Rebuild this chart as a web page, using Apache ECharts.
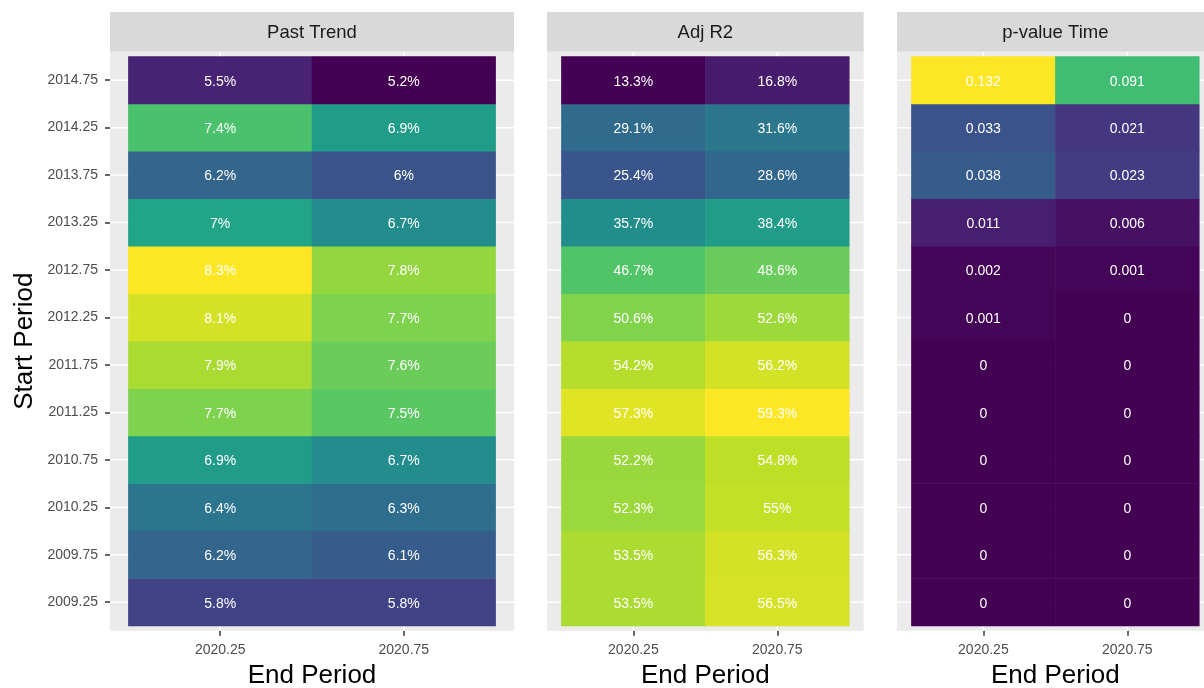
<!DOCTYPE html>
<html><head><meta charset="utf-8">
<script src="https://cdn.jsdelivr.net/npm/echarts@6/dist/echarts.min.js"></script>
<style>html,body{margin:0;padding:0;background:#fff}#c{width:1204px;height:688px}</style>
</head><body><div id="c"></div>
<script>
// ---------- data ----------
const startPeriods = ['2009.25','2009.75','2010.25','2010.75','2011.25','2011.75','2012.25','2012.75','2013.25','2013.75','2014.25','2014.75'];
const endPeriods = ['2020.25','2020.75'];
const panelTitles = ['Past Trend','Adj R2','p-value Time'];
// values listed bottom (2009.25) to top (2014.75)
const pastTrend_2020_25 = [5.8, 6.2, 6.4, 6.9, 7.7, 7.9, 8.1, 8.3, 7.0, 6.2, 7.4, 5.5];
const pastTrend_2020_75 = [5.8, 6.1, 6.3, 6.7, 7.5, 7.6, 7.7, 7.8, 6.7, 6.0, 6.9, 5.2];
const adjR2_2020_25 = [53.5, 53.5, 52.3, 52.2, 57.3, 54.2, 50.6, 46.7, 35.7, 25.4, 29.1, 13.3];
const adjR2_2020_75 = [56.5, 56.3, 55.0, 54.8, 59.3, 56.2, 52.6, 48.6, 38.4, 28.6, 31.6, 16.8];
const pTime_2020_25 = [0, 0, 0, 0, 0, 0, 0.001, 0.002, 0.011, 0.038, 0.033, 0.132];
const pTime_2020_75 = [0, 0, 0, 0, 0, 0, 0, 0.001, 0.006, 0.023, 0.021, 0.091];

const viridis = ['#440154','#482475','#414487','#355F8D','#2A788E','#21918C','#22A884','#44BF70','#7AD151','#BDDF26','#FDE725'];

const panelValues = [
  [pastTrend_2020_25, pastTrend_2020_75],
  [adjR2_2020_25, adjR2_2020_75],
  [pTime_2020_25, pTime_2020_75]
];
const panelFormat = [
  v => String(v) + '%',
  v => String(v) + '%',
  v => String(v)
];

// ---------- layout ----------
const FONT = '"Liberation Sans", Arial, Helvetica, sans-serif';
const panelsX = [[110, 514], [547, 863.7], [897, 1213.7]];
const stripTop = 12, bgTop = 51.7, bgBottom = 630.7;
const nRows = startPeriods.length, nCols = endPeriods.length;
const rowH = (bgBottom - bgTop) / (nRows + 0.2);
const padY = 0.1 * rowH;

const grids = [], xAxes = [], yAxes = [], series = [], visualMaps = [];
panelsX.forEach(([L, R], i) => {
  const colW = (R - L) / (nCols + 0.2);
  const padX = 0.1 * colW;
  grids.push({left: L + padX, top: bgTop + padY, width: colW * nCols, height: rowH * nRows,
    outerBoundsMode: 'none', containLabel: false});
  xAxes.push({
    type: 'category', gridIndex: i, data: endPeriods, offset: padY,
    axisLine: {show: false},
    axisTick: {show: true, alignWithLabel: true, length: 5, lineStyle: {color: '#333333', width: 1.5}},
    axisLabel: {color: '#4D4D4D', fontSize: 14, fontFamily: FONT, margin: 12},
    splitLine: {show: false},
    name: 'End Period', nameLocation: 'middle', nameGap: 32,
    nameTextStyle: {color: '#000', fontSize: 26, fontFamily: FONT}
  });
  const y = {
    type: 'category', gridIndex: i, data: startPeriods, offset: padX,
    axisLine: {show: false},
    axisTick: {show: i === 0, alignWithLabel: true, length: 5, lineStyle: {color: '#333333', width: 1.5}},
    axisLabel: {show: i === 0, color: '#4D4D4D', fontSize: 14, fontFamily: FONT, margin: 12, padding: [3, 0, 0, 0]},
    splitLine: {show: false}
  };
  if (i === 0) {
    Object.assign(y, {name: 'Start Period', nameLocation: 'middle', nameGap: 72, nameRotate: 90,
      nameTextStyle: {color: '#000', fontSize: 26, fontFamily: FONT}});
  }
  yAxes.push(y);
  const data = [];
  const all = [];
  panelValues[i].forEach((col, xi) => col.forEach((v, yi) => { data.push([xi, yi, v]); all.push(v); }));
  const fmt = panelFormat[i];
  series.push({
    type: 'heatmap', xAxisIndex: i, yAxisIndex: i, data: data, z: 5,
    label: {show: true, color: '#FFFFFF', fontSize: 14, fontFamily: FONT, offset: [0, 1.5], formatter: p => fmt(p.value[2])},
    emphasis: {disabled: true}, itemStyle: {borderWidth: 0}
  });
  visualMaps.push({
    type: 'continuous', show: false, seriesIndex: i, dimension: 2,
    min: Math.min.apply(null, all), max: Math.max.apply(null, all),
    inRange: {color: viridis}
  });
});

const chart = echarts.init(document.getElementById('c'), null, {renderer: 'canvas'});
chart.setOption({
  animation: false,
  backgroundColor: '#FFFFFF',
  grid: grids, xAxis: xAxes, yAxis: yAxes, series: series, visualMap: visualMaps
});

// panel backgrounds, strips and grid lines (decoration), positioned via the axes
const g = [];
panelsX.forEach(([L, R], i) => {
  g.push({type: 'rect', z: 0, silent: true, shape: {x: L, y: bgTop, width: R - L, height: bgBottom - bgTop}, style: {fill: '#EBEBEB'}});
  g.push({type: 'rect', z: 0, silent: true, shape: {x: L, y: stripTop, width: R - L, height: bgTop - stripTop}, style: {fill: '#D9D9D9'}});
  g.push({type: 'text', z: 1, silent: true, x: (L + R) / 2, y: (stripTop + bgTop) / 2 + 1,
    style: {text: panelTitles[i], fill: '#1A1A1A', fontSize: 18.5, fontFamily: FONT, align: 'center', verticalAlign: 'middle'}});
  startPeriods.forEach((sp, yi) => {
    const p = chart.convertToPixel({gridIndex: i}, [0, yi]);
    g.push({type: 'line', z: 1, silent: true, shape: {x1: L, y1: p[1], x2: R, y2: p[1]}, style: {stroke: '#FFFFFF', lineWidth: 1.5}});
  });
  endPeriods.forEach((ep, xi) => {
    const p = chart.convertToPixel({gridIndex: i}, [xi, 0]);
    g.push({type: 'line', z: 1, silent: true, shape: {x1: p[0], y1: bgTop, x2: p[0], y2: bgBottom}, style: {stroke: '#FFFFFF', lineWidth: 1.5}});
  });
});
chart.setOption({graphic: {elements: g}});
</script>
</body></html>
